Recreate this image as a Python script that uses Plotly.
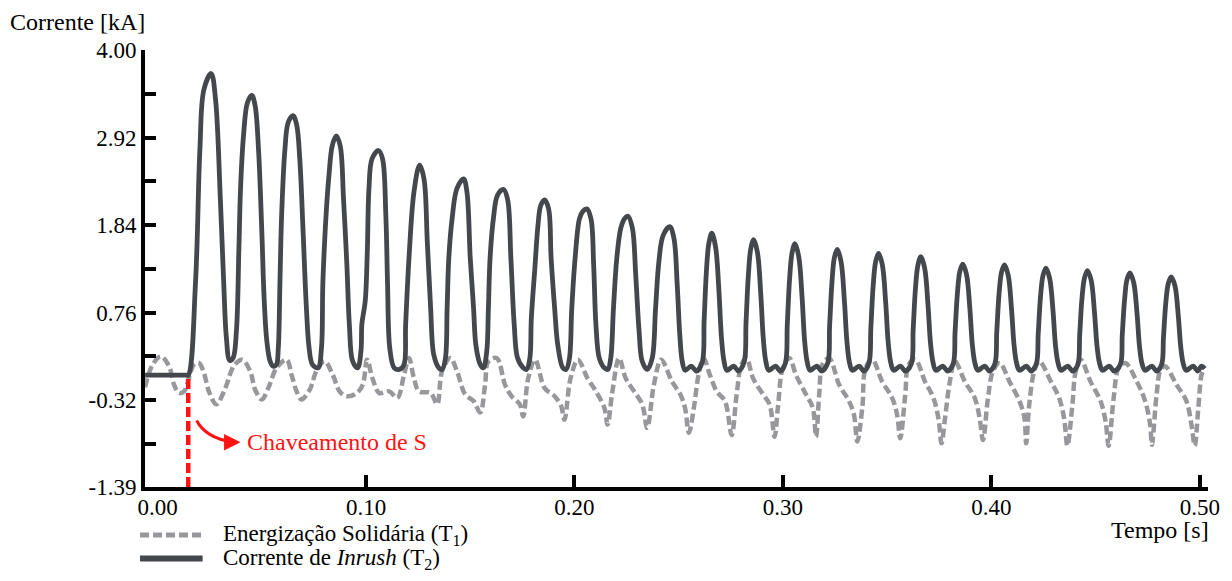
import plotly.graph_objects as go

# ---- T1: sympathetic energization current (kA) vs time (s) ----
t1_time = [
    -0.0060, -0.0024, 0.0016, 0.0055, 0.0079, 0.0103, 0.0127, 0.0150, 0.0174, 0.0198,
    0.0222, 0.0246, 0.0282, 0.0325, 0.0365, 0.0405, 0.0444, 0.0468, 0.0500, 0.0531,
    0.0571, 0.0619, 0.0643, 0.0667, 0.0690, 0.0730, 0.0762, 0.0801, 0.0841, 0.0873,
    0.0905, 0.0952, 0.0984, 0.1005, 0.1031, 0.1063, 0.1111, 0.1150, 0.1182, 0.1206,
    0.1230, 0.1254, 0.1310, 0.1341, 0.1365, 0.1405, 0.1436, 0.1476, 0.1516, 0.1548,
    0.1571, 0.1587, 0.1627, 0.1667, 0.1698, 0.1738, 0.1754, 0.1778, 0.1811, 0.1857,
    0.1905, 0.1936, 0.1952, 0.1981, 0.2016, 0.2063, 0.2103, 0.2143, 0.2159, 0.2182,
    0.2214, 0.2246, 0.2286, 0.2325, 0.2349, 0.2381, 0.2416, 0.2468, 0.2508, 0.2530,
    0.2549, 0.2573, 0.2595, 0.2619, 0.2650, 0.2682, 0.2722, 0.2754, 0.2778, 0.2801,
    0.2825, 0.2857, 0.2905, 0.2936, 0.2960, 0.2976, 0.3000, 0.3031, 0.3063, 0.3111,
    0.3143, 0.3159, 0.3174, 0.3190, 0.3222, 0.3270, 0.3317, 0.3341, 0.3357, 0.3381,
    0.3397, 0.3429, 0.3476, 0.3524, 0.3548, 0.3563, 0.3587, 0.3603, 0.3635, 0.3682,
    0.3722, 0.3746, 0.3761, 0.3778, 0.3801, 0.3825, 0.3873, 0.3920, 0.3944, 0.3960,
    0.3984, 0.4008, 0.4040, 0.4087, 0.4135, 0.4159, 0.4167, 0.4182, 0.4206, 0.4230,
    0.4286, 0.4325, 0.4349, 0.4365, 0.4389, 0.4405, 0.4429, 0.4476, 0.4524, 0.4548,
    0.4563, 0.4587, 0.4611, 0.4643, 0.4698, 0.4738, 0.4762, 0.4770, 0.4793, 0.4810,
    0.4833, 0.4889, 0.4936, 0.4960, 0.4976, 0.4992, 0.5008, 0.5016,
]
t1_current = [
    -0.16, 0.12, 0.22, 0.10, -0.13, -0.23, -0.21, -0.05, 0.12, 0.14,
    0.02, -0.21, -0.37, -0.17, 0.10, 0.18, 0.04, -0.19, -0.31, -0.17,
    0.08, 0.18, -0.01, -0.21, -0.31, -0.19, 0.04, 0.16, -0.01, -0.21,
    -0.27, -0.24, -0.13, 0.18, -0.05, -0.23, -0.21, -0.29, -0.01, 0.20,
    -0.05, -0.21, -0.23, -0.37, 0.04, 0.20, 0.04, -0.25, -0.33, -0.47,
    -0.13, 0.16, 0.20, -0.13, -0.27, -0.37, -0.52, -0.05, 0.18, -0.17,
    -0.27, -0.39, -0.56, -0.05, 0.18, -0.05, -0.21, -0.41, -0.62, -0.21,
    0.20, -0.05, -0.21, -0.37, -0.66, -0.13, 0.18, -0.09, -0.25, -0.41,
    -0.72, -0.41, -0.01, 0.20, -0.01, -0.21, -0.33, -0.75, -0.25, 0.12,
    0.20, -0.05, -0.25, -0.37, -0.77, -0.41, 0.08, 0.20, -0.01, -0.25,
    -0.41, -0.77, -0.25, 0.12, 0.20, -0.13, -0.33, -0.50, -0.83, -0.41,
    0.08, 0.18, -0.09, -0.29, -0.50, -0.79, -0.25, 0.12, 0.18, -0.09,
    -0.29, -0.54, -0.85, -0.54, -0.09, 0.16, -0.09, -0.29, -0.54, -0.81,
    -0.29, 0.04, 0.14, -0.09, -0.33, -0.54, -0.85, -0.37, 0.04, 0.16,
    -0.09, -0.29, -0.54, -0.88, -0.37, 0.04, 0.18, -0.09, -0.33, -0.58,
    -0.88, -0.29, 0.08, 0.14, -0.09, -0.33, -0.62, -0.87, -0.25, 0.04,
    0.10, -0.13, -0.33, -0.62, -0.88, -0.45, -0.01, 0.04,
]

# ---- T2: inrush current (kA) vs time (s), one row per cycle ----
t2_time = [
    -0.0060, 0.0135, 0.0147,
    0.0182, 0.0203, 0.0222, 0.0257, 0.0278, 0.0301, 0.0317, 0.0330, 0.0346, 0.0362,
    0.0378, 0.0390, 0.0398, 0.0412, 0.0431, 0.0452, 0.0468, 0.0484, 0.0500, 0.0511, 0.0524, 0.0540, 0.0555,
    0.0570, 0.0579, 0.0587, 0.0595, 0.0611, 0.0627, 0.0650, 0.0667, 0.0682, 0.0698, 0.0714, 0.0727, 0.0743, 0.0770,
    0.0786, 0.0793, 0.0810, 0.0822, 0.0838, 0.0857, 0.0876, 0.0892, 0.0908, 0.0920, 0.0936, 0.0960,
    0.0976, 0.0980, 0.0996, 0.1006, 0.1014, 0.1029, 0.1060, 0.1079, 0.1095, 0.1103, 0.1114, 0.1135, 0.1160,
    0.1182, 0.1190, 0.1206, 0.1230, 0.1257, 0.1278, 0.1294, 0.1310, 0.1325, 0.1349, 0.1365,
    0.1381, 0.1389, 0.1397, 0.1413, 0.1436, 0.1468, 0.1484, 0.1500, 0.1516, 0.1527, 0.1548, 0.1563,
    0.1579, 0.1587, 0.1595, 0.1611, 0.1631, 0.1659, 0.1679, 0.1695, 0.1711, 0.1727, 0.1754, 0.1770,
    0.1786, 0.1793, 0.1810, 0.1825, 0.1838, 0.1857, 0.1876, 0.1888, 0.1905, 0.1920, 0.1944, 0.1960,
    0.1976, 0.1987, 0.2003, 0.2024, 0.2040, 0.2059, 0.2079, 0.2092, 0.2103, 0.2119, 0.2143, 0.2160,
    0.2174, 0.2187, 0.2203, 0.2222, 0.2240, 0.2257, 0.2278, 0.2294, 0.2310, 0.2325, 0.2349,
    0.2373, 0.2389, 0.2405, 0.2425, 0.2457, 0.2477, 0.2493, 0.2505, 0.2517, 0.2531, 0.2560, 0.2585,
    0.2613, 0.2622, 0.2633, 0.2645, 0.2659, 0.2677, 0.2693, 0.2705, 0.2717, 0.2731, 0.2764, 0.2787,
    0.2814, 0.2823, 0.2834, 0.2846, 0.2860, 0.2878, 0.2894, 0.2906, 0.2918, 0.2932, 0.2965, 0.2988,
    0.3012, 0.3021, 0.3032, 0.3044, 0.3058, 0.3076, 0.3092, 0.3104, 0.3116, 0.3130, 0.3163, 0.3186,
    0.3215, 0.3224, 0.3235, 0.3247, 0.3261, 0.3279, 0.3295, 0.3307, 0.3319, 0.3333, 0.3366, 0.3389,
    0.3413, 0.3422, 0.3433, 0.3445, 0.3459, 0.3477, 0.3493, 0.3505, 0.3517, 0.3531, 0.3564, 0.3587,
    0.3616, 0.3625, 0.3636, 0.3648, 0.3662, 0.3680, 0.3696, 0.3708, 0.3720, 0.3734, 0.3767, 0.3790,
    0.3817, 0.3826, 0.3837, 0.3849, 0.3863, 0.3881, 0.3897, 0.3909, 0.3921, 0.3935, 0.3968, 0.3991,
    0.4017, 0.4026, 0.4037, 0.4049, 0.4063, 0.4081, 0.4097, 0.4109, 0.4121, 0.4135, 0.4168, 0.4191,
    0.4216, 0.4225, 0.4236, 0.4248, 0.4262, 0.4280, 0.4296, 0.4308, 0.4320, 0.4334, 0.4367, 0.4390,
    0.4415, 0.4424, 0.4435, 0.4447, 0.4461, 0.4479, 0.4495, 0.4507, 0.4519, 0.4533, 0.4566, 0.4589,
    0.4619, 0.4628, 0.4639, 0.4651, 0.4665, 0.4683, 0.4699, 0.4711, 0.4723, 0.4737, 0.4770, 0.4793,
    0.4817, 0.4826, 0.4837, 0.4849, 0.4863, 0.4881, 0.4897, 0.4909, 0.4921, 0.4935, 0.4968, 0.4991,
    0.5008, 0.5024,
]
t2_current = [
    -0.01, -0.01, -0.01,
    1.14, 2.78, 3.51, 3.71, 3.39, 2.16, 1.14, 0.45, 0.17, 0.20,
    0.53, 1.55, 2.30, 2.94, 3.35, 3.44, 3.31, 2.78, 1.76, 0.94, 0.41, 0.16, 0.10,
    0.12, 0.32, 1.14, 1.96, 2.78, 3.11, 3.19, 3.08, 2.66, 1.76, 0.81, 0.32, 0.12, 0.08,
    0.32, 1.14, 2.04, 2.45, 2.82, 2.94, 2.82, 2.16, 1.35, 0.61, 0.16, 0.08,
    0.30, 0.62, 0.90, 1.50, 2.29, 2.66, 2.76, 2.66, 1.96, 1.14, 0.32, 0.08, 0.06,
    0.12, 0.61, 1.43, 2.25, 2.58, 2.41, 1.63, 0.81, 0.24, 0.08, 0.06,
    0.20, 0.81, 1.43, 1.92, 2.29, 2.41, 2.25, 1.43, 0.81, 0.36, 0.12, 0.08,
    0.28, 0.81, 1.43, 1.92, 2.21, 2.28, 2.16, 1.43, 0.61, 0.20, 0.08, 0.06,
    0.20, 0.69, 1.31, 1.84, 2.08, 2.15, 2.04, 1.43, 0.81, 0.36, 0.08, 0.06,
    0.20, 0.81, 1.43, 1.92, 2.01, 2.04, 1.92, 1.35, 0.61, 0.20, 0.08, 0.06,
    0.20, 0.81, 1.43, 1.80, 1.92, 1.95, 1.80, 1.22, 0.53, 0.16, 0.06,
    0.20, 0.81, 1.39, 1.71, 1.82, 1.68, 1.10, 0.50, 0.16, 0.05, 0.10, 0.04,
    0.15, 0.66, 1.27, 1.62, 1.74, 1.57, 1.03, 0.46, 0.17, 0.05, 0.10, 0.04,
    0.15, 0.63, 1.21, 1.55, 1.66, 1.50, 0.98, 0.44, 0.16, 0.05, 0.10, 0.04,
    0.14, 0.61, 1.17, 1.50, 1.61, 1.45, 0.95, 0.42, 0.16, 0.05, 0.10, 0.04,
    0.14, 0.59, 1.12, 1.44, 1.54, 1.39, 0.91, 0.41, 0.15, 0.05, 0.10, 0.04,
    0.14, 0.57, 1.09, 1.39, 1.49, 1.35, 0.89, 0.40, 0.15, 0.05, 0.10, 0.04,
    0.13, 0.55, 1.06, 1.35, 1.45, 1.31, 0.86, 0.39, 0.15, 0.05, 0.10, 0.04,
    0.13, 0.52, 0.99, 1.27, 1.36, 1.23, 0.81, 0.36, 0.14, 0.05, 0.10, 0.04,
    0.13, 0.52, 0.99, 1.26, 1.35, 1.22, 0.80, 0.36, 0.14, 0.05, 0.10, 0.04,
    0.13, 0.50, 0.96, 1.22, 1.31, 1.18, 0.78, 0.35, 0.14, 0.05, 0.10, 0.04,
    0.12, 0.49, 0.94, 1.19, 1.28, 1.16, 0.76, 0.35, 0.14, 0.05, 0.10, 0.04,
    0.12, 0.48, 0.91, 1.17, 1.25, 1.13, 0.75, 0.34, 0.13, 0.05, 0.10, 0.04,
    0.12, 0.46, 0.88, 1.12, 1.20, 1.09, 0.72, 0.33, 0.13, 0.05, 0.10, 0.04,
    0.10, 0.07,
]

# ---- axes ----
y_tick_values = [-1.39, -0.32, 0.76, 1.84, 2.92, 4.00]
y_tick_labels = ["-1.39", "-0.32", "0.76", "1.84", "2.92", "4.00"]
y_mid_ticks = [-0.855, 0.22, 1.30, 2.38, 3.46]
x_tick_values = [0.0, 0.1, 0.2, 0.3, 0.4, 0.5]
x_tick_labels = ["0.00", "0.10", "0.20", "0.30", "0.40", "0.50"]
x_tick_marks = [0.1, 0.2, 0.3, 0.4, 0.5]
x_range = [-0.00605, 0.50395]
y_range = [-1.39, 4.00]

# switching instant of S
switch_time = 0.0147
switch_level = -0.01

# ---- legend / labels ----
series_names = ["Energização Solidária (T<sub>1</sub>)",
                "Corrente de <i>Inrush</i> (T<sub>2</sub>)"]
annotation_text = "Chaveamento de S"

GRAY = "#98989c"
DARK = "#44474c"
RED = "#ff1414"
FONT = "'Liberation Serif', 'Times New Roman', Tinos, 'DejaVu Serif', serif"

fig = go.Figure()
fig.add_trace(go.Scatter(
    x=t1_time, y=t1_current, mode="lines", name=series_names[0],
    line=dict(color=GRAY, width=4.5, dash="9px,4px", shape="spline", smoothing=1.0),
))
fig.add_trace(go.Scatter(
    x=t2_time, y=t2_current, mode="lines", name=series_names[1],
    line=dict(color=DARK, width=4.8, shape="spline", smoothing=1.0),
))

L, R, T, B = 145, 17, 50, 94
W, H = 1232, 581
pw, ph = W - L - R, H - T - B


def px_x(p):
    return (p - L) / pw


def px_y(p):
    return (H - B - p) / ph


shapes = [
    # switching instant marker
    dict(type="line", xref="x", yref="y", x0=switch_time, x1=switch_time,
         y0=y_range[0], y1=switch_level, line=dict(color=RED, width=4.5, dash="10px,4px")),
    # curved pointer towards the label
    dict(type="path", xref="x", yref="y",
         path="M 0.0187,-0.570 Q 0.0230,-0.782 0.0359,-0.837",
         line=dict(color=RED, width=3)),
    # legend samples
    dict(type="line", xref="paper", yref="paper", x0=px_x(140), x1=px_x(202),
         y0=px_y(535), y1=px_y(535), line=dict(color=GRAY, width=5, dash="9px,4px")),
    dict(type="line", xref="paper", yref="paper", x0=px_x(140), x1=px_x(203),
         y0=px_y(558.5), y1=px_y(558.5), line=dict(color=DARK, width=6)),
]

annotations = [
    dict(text="Corrente [kA]", xref="paper", yref="paper", x=px_x(7), y=px_y(22),
         xanchor="left", yanchor="middle", showarrow=False, font=dict(size=24)),
    dict(text="Tempo [s]", xref="paper", yref="paper", x=px_x(1218), y=px_y(530),
         xanchor="right", yanchor="middle", showarrow=False, font=dict(size=24)),
    dict(text=annotation_text, xref="x", yref="y", x=0.0420, y=-0.831,
         xanchor="left", yanchor="middle", showarrow=False, font=dict(size=24, color=RED)),
    dict(text="", xref="x", yref="y", x=0.0398, y=-0.837, ax=-14, ay=0,
         showarrow=True, arrowhead=2, arrowsize=1.1, arrowwidth=3, arrowcolor=RED),
    dict(text=series_names[0], xref="paper", yref="paper", x=px_x(222), y=px_y(535),
         xanchor="left", yanchor="middle", showarrow=False, font=dict(size=23)),
    dict(text=series_names[1], xref="paper", yref="paper", x=px_x(222), y=px_y(558.5),
         xanchor="left", yanchor="middle", showarrow=False, font=dict(size=23)),
]

fig.update_layout(
    width=W, height=H,
    margin=dict(l=L, r=R, t=T, b=B, pad=0),
    paper_bgcolor="white", plot_bgcolor="white",
    showlegend=False,
    font=dict(family=FONT, size=23, color="black"),
    shapes=shapes, annotations=annotations,
    xaxis=dict(
        range=x_range, showgrid=False, zeroline=False,
        showline=True, linecolor="black", linewidth=4,
        tickmode="array", tickvals=x_tick_values, ticktext=x_tick_labels,
        ticks="outside", ticklen=0, ticklabelstandoff=-4, tickfont=dict(size=23),
        minor=dict(tickmode="array", tickvals=x_tick_marks, ticks="inside",
                   ticklen=12, tickwidth=4, tickcolor="black", showgrid=False),
    ),
    yaxis=dict(
        range=y_range, showgrid=False, zeroline=False,
        showline=True, linecolor="black", linewidth=4,
        tickmode="array", tickvals=y_tick_values, ticktext=y_tick_labels,
        ticks="inside", ticklen=11, tickwidth=4, tickcolor="black",
        tickfont=dict(size=23),
        minor=dict(tickmode="array", tickvals=y_mid_ticks, ticks="inside",
                   ticklen=11, tickwidth=4, tickcolor="black", showgrid=False),
    ),
)

fig.write_html("out.html")
